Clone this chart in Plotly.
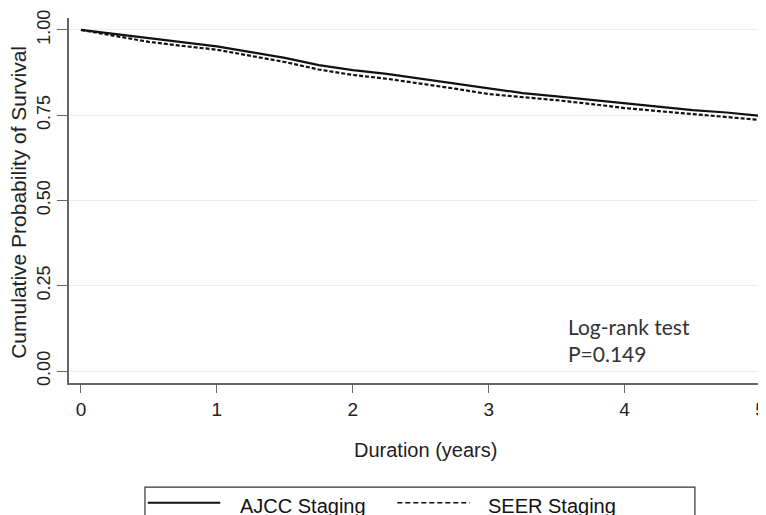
import plotly.graph_objects as go

years = [0, 0.25, 0.5, 0.75, 1.0, 1.25, 1.5, 1.75, 2.0, 2.25, 2.5, 2.75, 3.0,
         3.25, 3.5, 3.75, 4.0, 4.25, 4.5, 4.75, 5.0, 5.03]
ajcc = [1.000, 0.988, 0.975, 0.964, 0.952, 0.935, 0.918, 0.897, 0.882, 0.871,
        0.857, 0.842, 0.827, 0.815, 0.805, 0.795, 0.784, 0.774, 0.765, 0.758,
        0.749, 0.747]
seer = [1.000, 0.983, 0.965, 0.953, 0.942, 0.924, 0.906, 0.884, 0.868, 0.857,
        0.843, 0.828, 0.812, 0.804, 0.794, 0.783, 0.771, 0.762, 0.753, 0.745,
        0.737, 0.735]
series_names = ["AJCC Staging", "SEER Staging"]
x_ticks = [0, 1, 2, 3, 4, 5]
y_ticks = [0, 0.25, 0.5, 0.75, 1.0]
y_tick_labels = ["0.00", "0.25", "0.50", "0.75", "1.00"]

FONT = "Liberation Sans, Arial, sans-serif"
DASH = "4px,2px"

fig = go.Figure()
fig.add_trace(go.Scatter(x=years, y=ajcc, mode="lines", name=series_names[0],
                         showlegend=False,
                         line=dict(color="#111111", width=2.2, dash="solid")))
fig.add_trace(go.Scatter(x=years, y=seer, mode="lines", name=series_names[1],
                         showlegend=False,
                         line=dict(color="#111111", width=2.2, dash=DASH)))

# manual legend box (paper coordinates)
leg_y = -0.328
shapes = [
    dict(type="rect", xref="paper", yref="paper", x0=0.109, x1=0.898,
         y0=-0.45, y1=-0.285, line=dict(color="#333333", width=1.2),
         fillcolor="rgba(0,0,0,0)", layer="above"),
    dict(type="line", xref="paper", yref="paper", x0=0.113, x1=0.217, y0=leg_y, y1=leg_y,
         line=dict(color="#111111", width=2)),
    dict(type="line", xref="paper", yref="paper", x0=0.471, x1=0.575, y0=leg_y, y1=leg_y,
         line=dict(color="#111111", width=1.5, dash="5px,3px")),
]
annotations = [
    dict(x=0.243, y=leg_y - 0.008, xref="paper", yref="paper", xanchor="left", yanchor="middle",
         showarrow=False, text=series_names[0],
         font=dict(family=FONT, size=20, color="#111111")),
    dict(x=0.598, y=leg_y - 0.008, xref="paper", yref="paper", xanchor="left", yanchor="middle",
         showarrow=False, text=series_names[1],
         font=dict(family=FONT, size=20, color="#111111")),
    dict(x=3.57, y=0.172, xref="x", yref="y", xanchor="left", yanchor="top",
         align="left", showarrow=False,
         text="Log-rank test<br>P=0.149",
         font=dict(family="Lato, Open Sans, sans-serif", size=21, color="#333333")),
    # axis titles
    dict(x=0.512, y=-0.184, xref="paper", yref="paper", xanchor="center", yanchor="middle",
         showarrow=False, text="Duration (years)",
         font=dict(family=FONT, size=20, color="#222222")),
    dict(x=-0.0725, y=0.495, xref="paper", yref="paper", xanchor="center", yanchor="middle",
         showarrow=False, text="Cumulative Probability of Survival", textangle=-90,
         font=dict(family=FONT, size=21, color="#222222")),
]

fig.update_layout(
    width=758, height=507,
    margin=dict(l=61, r=0, t=10, b=132),
    paper_bgcolor="white", plot_bgcolor="white",
    font=dict(family=FONT, size=18, color="#222222"),
    showlegend=False,
    xaxis=dict(range=[-0.088, 5.04], tickvals=x_ticks, ticks="outside", ticklen=8,
               tickcolor="#666666", showline=True, linecolor="#666666", linewidth=1.5,
               showgrid=False, zeroline=False, automargin=False,
               tickfont=dict(family=FONT, size=19, color="#222222")),
    yaxis=dict(range=[-0.035, 1.035], tickvals=y_ticks, ticktext=y_tick_labels,
               tickangle=-90, ticks="outside", ticklen=10, tickcolor="#666666",
               showline=True, linecolor="#666666", linewidth=1.5,
               showgrid=True, gridcolor="#e6eef0", gridwidth=1, zeroline=False,
               automargin=False,
               tickfont=dict(family=FONT, size=18, color="#222222")),
    shapes=shapes,
    annotations=annotations,
)

fig.write_html("out.html")
